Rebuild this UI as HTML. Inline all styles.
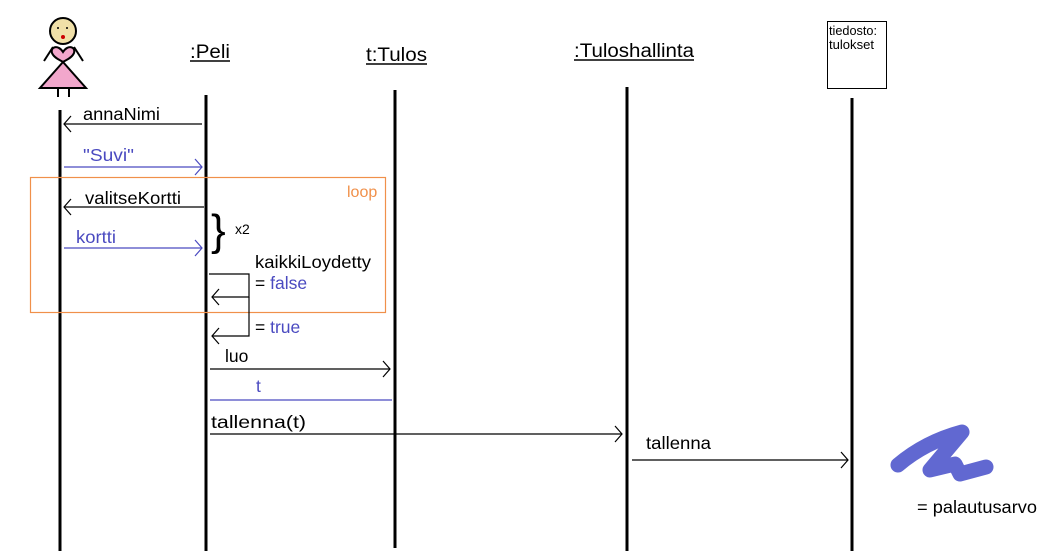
<!DOCTYPE html>
<html><head><meta charset="utf-8"><style>
html,body{margin:0;padding:0;background:#fff;}
svg{display:block;}
text{font-family:"Liberation Sans",sans-serif;}
</style></head><body>
<svg width="1061" height="556" viewBox="0 0 1061 556" xmlns="http://www.w3.org/2000/svg">
<rect width="1061" height="556" fill="#fff"/>
<g stroke="#000" stroke-width="2" fill="none">
<circle cx="63" cy="31" r="13" fill="#f0e0a8"/>
<line x1="53" y1="47" x2="44" y2="61"/>
<line x1="74" y1="47" x2="83" y2="61"/>
<path d="M63,52 C58,44 50,47 52,53 C54,58 60,60 63,62 C66,60 72,58 74,53 C76,47 68,44 63,52 Z" fill="#f2a7cc"/>
<polygon points="63,62 40,88 86,88" fill="#f2a7cc"/>
<line x1="58" y1="89" x2="58" y2="97"/>
<line x1="69" y1="89" x2="69" y2="97"/>
</g>
<circle cx="58" cy="28" r="1" fill="#000"/><circle cx="67" cy="28" r="1" fill="#000"/>
<circle cx="63" cy="37" r="2" fill="#c00"/>
<text x="190" y="58" font-size="19" textLength="40" lengthAdjust="spacingAndGlyphs">:Peli</text>
<line x1="190" y1="61" x2="230" y2="61" stroke="#000" stroke-width="1.5"/>
<text x="366" y="61" font-size="19" textLength="61" lengthAdjust="spacingAndGlyphs">t:Tulos</text>
<line x1="366" y1="64" x2="427" y2="64" stroke="#000" stroke-width="1.5"/>
<text x="574" y="57" font-size="19" textLength="120" lengthAdjust="spacingAndGlyphs">:Tuloshallinta</text>
<line x1="574" y1="60" x2="694" y2="60" stroke="#000" stroke-width="1.5"/>
<rect x="827.5" y="21.5" width="59" height="67" fill="#fff" stroke="#000"/>
<text x="829" y="35" font-size="12.5" textLength="48" lengthAdjust="spacingAndGlyphs">tiedosto:</text>
<text x="829" y="49" font-size="12.5" textLength="45" lengthAdjust="spacingAndGlyphs">tulokset</text>
<g stroke="#000" stroke-width="3">
<line x1="60" y1="110" x2="60" y2="551"/>
<line x1="206" y1="95" x2="206" y2="551"/>
<line x1="395" y1="90" x2="395" y2="548"/>
<line x1="627" y1="87" x2="627" y2="551"/>
<line x1="852" y1="98" x2="852" y2="551"/>
</g>
<rect x="30.5" y="177.5" width="355" height="135" fill="none" stroke="#f0904a" stroke-width="1.2"/>
<text x="347" y="197" font-size="16" fill="#f0904a">loop</text>
<g fill="none" stroke-width="1.2">
<g stroke="#000"><line x1="202" y1="124" x2="64" y2="124"/><polyline points="71,116 64,124 71,132"/></g>
<g stroke="#4a4ac0"><line x1="64" y1="167" x2="202" y2="167"/><polyline points="195,159 202,167 195,175"/></g>
<g stroke="#000"><line x1="204" y1="207" x2="64" y2="207"/><polyline points="71,199 64,207 71,215"/></g>
<g stroke="#4a4ac0"><line x1="64" y1="248" x2="202" y2="248"/><polyline points="195,240 202,248 195,256"/></g>
<g stroke="#000"><polyline points="209,274 249,274 249,297 212,297"/><polyline points="219,289 212,297 219,305"/>
<polyline points="249,297 249,336 212,336"/><polyline points="219,328 212,336 219,344"/></g>
<g stroke="#000"><line x1="210" y1="369" x2="390" y2="369"/><polyline points="383,361 390,369 383,377"/></g>
<g stroke="#4a4ac0"><line x1="392" y1="400" x2="210" y2="400"/></g>
<g stroke="#000"><line x1="210" y1="434" x2="622" y2="434"/><polyline points="615,426 622,434 615,442"/></g>
<g stroke="#000"><line x1="632" y1="460" x2="848" y2="460"/><polyline points="841,452 848,460 841,468"/></g>
</g>
<text x="83" y="120" font-size="17.5" textLength="77" lengthAdjust="spacingAndGlyphs">annaNimi</text>
<text x="83" y="161" font-size="17.5" fill="#4a4ac0" textLength="51" lengthAdjust="spacingAndGlyphs">"Suvi"</text>
<text x="85" y="204" font-size="17.5" textLength="96" lengthAdjust="spacingAndGlyphs">valitseKortti</text>
<text x="76" y="243" font-size="17.5" fill="#4a4ac0" textLength="40" lengthAdjust="spacingAndGlyphs">kortti</text>
<text x="211" y="245" font-size="44">}</text>
<text x="235" y="234" font-size="14">x2</text>
<text x="255" y="268" font-size="17.5" textLength="116" lengthAdjust="spacingAndGlyphs">kaikkiLoydetty</text>
<text x="255" y="289" font-size="17.5">= <tspan fill="#4a4ac0">false</tspan></text>
<text x="255" y="333" font-size="17.5">= <tspan fill="#4a4ac0">true</tspan></text>
<text x="225" y="362" font-size="17.5">luo</text>
<text x="256" y="392" font-size="17.5" fill="#4a4ac0">t</text>
<text x="211" y="428" font-size="17.5" textLength="95" lengthAdjust="spacingAndGlyphs">tallenna(t)</text>
<text x="646" y="449" font-size="17.5" textLength="65" lengthAdjust="spacingAndGlyphs">tallenna</text>
<path d="M898,465 Q925,442 962,432 L930,470 L955,464 L960,474 L986,467" fill="none" stroke="#5058cc" stroke-width="15" stroke-linejoin="round" stroke-linecap="round" opacity="0.9"/>
<text x="917" y="513" font-size="17.5" textLength="120" lengthAdjust="spacingAndGlyphs">= palautusarvo</text>
</svg>
</body></html>
